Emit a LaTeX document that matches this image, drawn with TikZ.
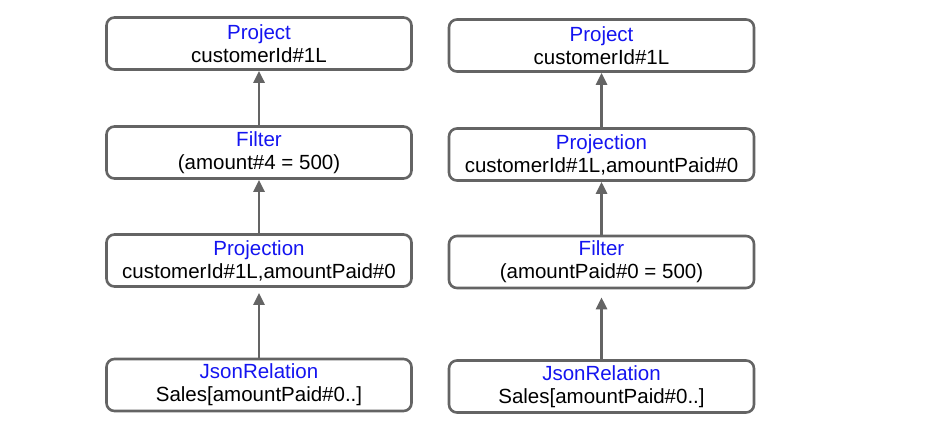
\documentclass[tikz,border=0pt]{standalone}
\usepackage{fontspec}
\setmainfont{Liberation Sans}
\usetikzlibrary{arrows.meta}
\definecolor{opblue}{RGB}{20,20,240}
\definecolor{edgegray}{RGB}{100,100,100}
\newcommand{\optitle}[1]{{\color{opblue}#1}}
\begin{document}
\begin{tikzpicture}[x=1pt,y=-1pt,
   opbox/.style={draw=edgegray, line width=2.6pt, rounded corners=8pt,
      minimum width=305pt, minimum height=52pt, align=center,
      inner sep=0pt, font=\fontsize{20.5}{23}\selectfont},
   flow/.style={draw=edgegray, line width=2.6pt,
      -{Triangle[length=12pt,width=11pt]}}]

\useasboundingbox (0,0) rectangle (928,429);

% before
\node[opbox] (lproject) at (259,43.5) {\optitle{Project}\\customerId\#1L};
\node[opbox] (lfilter) at (259,152.5) {\optitle{Filter}\\(amount\#4 = 500)};
\node[opbox] (lprojection) at (259,260.5) {\optitle{Projection}\\customerId\#1L,amountPaid\#0};
\node[opbox] (ljson) at (259,385) {\optitle{JsonRelation}\\Sales[amountPaid\#0..]};

% after
\node[opbox] (rproject) at (601.5,45.5) {\optitle{Project}\\customerId\#1L};
\node[opbox] (rprojection) at (601.5,154.5) {\optitle{Projection}\\customerId\#1L,amountPaid\#0};
\node[opbox] (rfilter) at (601.5,262) {\optitle{Filter}\\(amountPaid\#0 = 500)};
\node[opbox] (rjson) at (601.5,386.5) {\optitle{JsonRelation}\\Sales[amountPaid\#0..]};

\draw[flow] (lfilter) -- (lproject);
\draw[flow] (lprojection) -- (lfilter);
\draw[flow, shorten >=5pt] (ljson) -- (lprojection);

\draw[flow] (rprojection) -- (rproject);
\draw[flow] (rfilter) -- (rprojection);
\draw[flow, shorten >=8pt] (rjson) -- (rfilter);

\end{tikzpicture}
\end{document}
